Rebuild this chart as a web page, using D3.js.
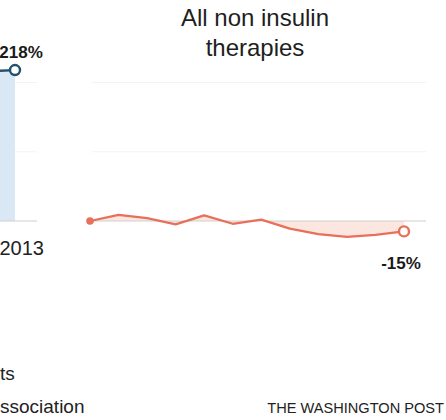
<!DOCTYPE html>
<html><head><meta charset="utf-8">
<script src="https://cdn.jsdelivr.net/npm/d3@7"></script>
<style>
html,body{margin:0;padding:0;background:#fff;}
svg{display:block;font-family:"Liberation Sans",Arial,sans-serif;}
</style></head>
<body>
<svg id="c" width="446" height="420"></svg>
<script>
// ---- data ----
const years = [2002,2003,2004,2005,2006,2007,2008,2009,2010,2011,2012,2013];
// Insulin (left panel, only its final part is visible in the crop)
const insulinYears = [2012, 2013];
const insulinValues = [216, 218];
// All non insulin therapies (% change since 2002)
const nonInsulinValues = [0, 9, 4, -5, 8, -4, 2, -11, -19, -23, -20, -15];
const gridTicks = [100, 200];
const panelTitle = ["All non insulin", "therapies"];
const yearLabel = "2013";
const footLines = ["ts", "ssociation"];
const credit = "THE WASHINGTON POST";

const svg = d3.select("#c");
const y = d3.scaleLinear().domain([0, 200]).range([221, 82.5]);
const fmt = v => v + "%";

function panel(cfg) {
  const x = d3.scaleLinear().domain([years[0], years[years.length-1]]).range(cfg.range);
  const g = svg.append("g");
  const xEnd = x.range()[1] + 22;
  g.selectAll("line.grid").data(gridTicks).join("line")
    .attr("x1", cfg.gridStart).attr("x2", xEnd)
    .attr("y1", d => y(d)).attr("y2", d => y(d))
    .attr("stroke", "#f3f3f3").attr("stroke-width", 1);
  const pts = cfg.xs.map((yr, i) => [yr, cfg.vals[i]]);
  g.append("path").datum(pts)
    .attr("d", d3.area().x(d => x(d[0])).y0(y(0)).y1(d => y(d[1])))
    .attr("fill", cfg.fill);
  g.append("line").attr("x1", cfg.gridStart).attr("x2", xEnd)
    .attr("y1", y(0)).attr("y2", y(0)).attr("stroke", "#cfcfcf");
  g.append("path").datum(pts)
    .attr("d", d3.line().x(d => x(d[0])).y(d => y(d[1])))
    .attr("fill", "none").attr("stroke", cfg.color).attr("stroke-width", 2.3)
    .attr("stroke-linejoin", "round");
  const first = pts[0], last = pts[pts.length-1];
  if (cfg.startDot) {
    g.append("circle").attr("cx", x(first[0])).attr("cy", y(first[1])).attr("r", 3.8)
      .attr("fill", cfg.color);
  }
  g.append("circle").attr("cx", x(last[0])).attr("cy", y(last[1])).attr("r", 5)
    .attr("fill", "#fff").attr("stroke", cfg.color).attr("stroke-width", 2.4);
  g.append("text").attr("x", x(last[0]) + cfg.labelDx)
    .attr("y", y(last[1]) + cfg.labelDy)
    .attr("text-anchor", "middle").attr("font-weight", "bold").attr("font-size", 17)
    .attr("fill", "#1a1a1a").text(fmt(last[1]));
  return x;
}

const xLeft = panel({range: [-299, 15], xs: insulinYears, vals: insulinValues,
  color: "#22506f", fill: "#dae8f6", gridStart: -299, labelDx: 6, labelDy: -12, startDot: false});
panel({range: [90, 404], xs: years, vals: nonInsulinValues,
  color: "#e8705a", fill: "#fbe7df", gridStart: 92, labelDx: -3, labelDy: 38, startDot: true});

svg.append("text").attr("x", xLeft(2013) + 29).attr("y", 255)
  .attr("text-anchor", "end").attr("font-size", 20).attr("fill", "#222").text(yearLabel);

svg.append("text").attr("text-anchor", "middle").attr("font-size", 24).attr("fill", "#1e1e1e")
  .selectAll("tspan").data(panelTitle).join("tspan")
  .attr("x", 255).attr("y", (d, i) => 26 + i * 30).text(d => d);

svg.selectAll("text.foot").data(footLines).join("text")
  .attr("x", 0).attr("y", (d, i) => 380 + i * 33)
  .attr("font-size", 19).attr("fill", "#222").text(d => d);

svg.append("text").attr("x", 444).attr("y", 413).attr("text-anchor", "end")
  .attr("font-size", 14.6).attr("fill", "#222").text(credit);
</script>
</body></html>
